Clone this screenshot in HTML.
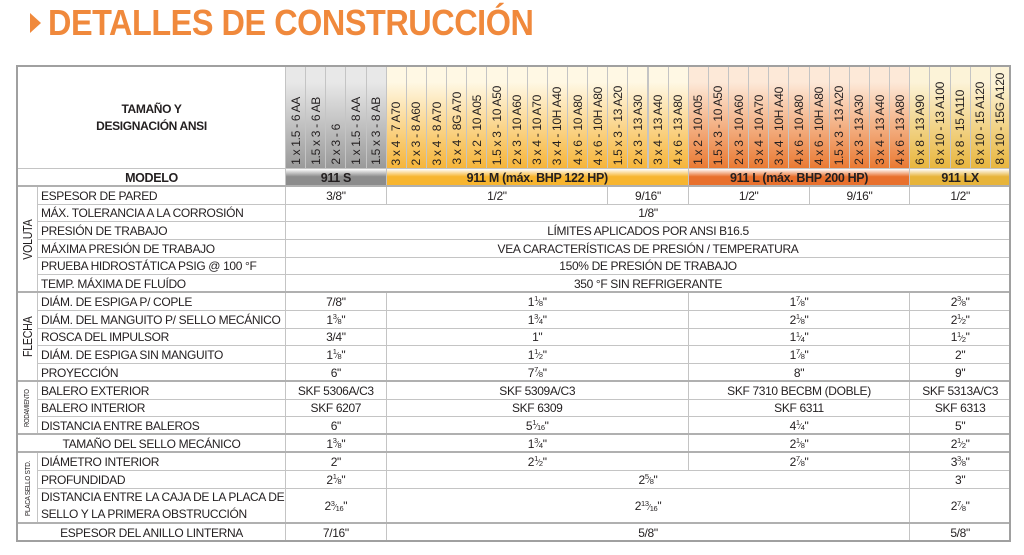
<!DOCTYPE html>
<html><head><meta charset="utf-8">
<style>
body{margin:0;width:1024px;height:555px;background:#fff;position:relative;overflow:hidden;font-family:"Liberation Sans",sans-serif;color:#231f20}
.a{position:absolute;box-sizing:border-box}
.c{border:1px solid #c4c4c4;display:flex;align-items:center;justify-content:center;font-size:12px;letter-spacing:-0.35px;white-space:nowrap}
.l{justify-content:flex-start;padding-left:3px}
.v{writing-mode:vertical-rl;transform:rotate(180deg);font-size:12px;letter-spacing:-0.3px;white-space:nowrap}
.fr{font-size:8px;line-height:8px}
.fr sup{font-size:7.5px;vertical-align:4px}
.fr sub{font-size:7.5px;vertical-align:-1px}
</style></head><body>
<div class="a" style="left:30px;top:13px;width:0;height:0;border-top:10px solid transparent;border-bottom:10px solid transparent;border-left:11px solid #f0893c"></div>
<div class="a" style="left:48px;top:2px;height:42px;white-space:nowrap;color:#f0893c;font-weight:bold;font-size:36px;transform:scaleX(0.9);transform-origin:left top;letter-spacing:-0.5px">DETALLES DE CONSTRUCCIÓN</div>
<div id="t"></div>
<div class="a" style="left:16px;top:65px;width:995px;height:477px;border:2px solid #a0a0a0;pointer-events:none"></div>
<script>
const sizes=["1 x 1.5 - 6 AA","1.5 x 3 - 6 AB","2 x 3 - 6","1 x 1.5 - 8 AA","1.5 x 3 - 8 AB",
"3 x 4 - 7 A70","2 x 3 - 8 A60","3 x 4 - 8 A70","3 x 4 - 8G A70","1 x 2 - 10 A05","1.5 x 3 - 10 A50","2 x 3 - 10 A60","3 x 4 - 10 A70","3 x 4 - 10H A40","4 x 6 - 10 A80","4 x 6 - 10H A80","1.5 x 3 - 13 A20","2 x 3 - 13 A30","3 x 4 - 13 A40","4 x 6 - 13 A80",
"1 x 2 - 10 A05","1.5 x 3 - 10 A50","2 x 3 - 10 A60","3 x 4 - 10 A70","3 x 4 - 10H A40","4 x 6 - 10 A80","4 x 6 - 10H A80","1.5 x 3 - 13 A20","2 x 3 - 13 A30","3 x 4 - 13 A40","4 x 6 - 13 A80",
"6 x 8 - 13 A90","8 x 10 - 13 A100","6 x 8 - 15 A110","8 x 10 - 15 A120","8 x 10 - 15G A120"];
const models=[[0,5,"911 S","#8c8c8c","#e8e8e8","#9a9a9a"],[5,20,"911 M (máx. BHP 122 HP)","#f7b52f","#fff8e4","#f6b53a"],[20,31,"911 L (máx. BHP 200 HP)","#e8702d","#fde9d8","#ea7a33"],[31,36,"911 LX","#e7b43a","#fcf3d8","#e8b63e"]];
const labels=["ESPESOR DE PARED","MÁX. TOLERANCIA A LA CORROSIÓN","PRESIÓN DE TRABAJO","MÁXIMA PRESIÓN DE TRABAJO","PRUEBA HIDROSTÁTICA PSIG @ 100 °F","TEMP. MÁXIMA DE FLUÍDO","DIÁM. DE ESPIGA P/ COPLE","DIÁM. DEL MANGUITO P/ SELLO MECÁNICO","ROSCA DEL IMPULSOR","DIÁM. DE ESPIGA SIN MANGUITO","PROYECCIÓN","BALERO EXTERIOR","BALERO INTERIOR","DISTANCIA ENTRE BALEROS","TAMAÑO DEL SELLO MECÁNICO","DIÁMETRO INTERIOR","PROFUNDIDAD","DISTANCIA ENTRE LA CAJA DE LA PLACA DE<br>SELLO Y LA PRIMERA OBSTRUCCIÓN","ESPESOR DEL ANILLO LINTERNA"];
const std=[[0,5],[5,20],[20,31],[31,36]];
const cells=[
 [[0,5,'3/8"'],[5,16,'1/2"'],[16,20,'9/16"'],[20,26,'1/2"'],[26,31,'9/16"'],[31,36,'1/2"']],
 [[0,36,'1/8"']],[[0,36,'LÍMITES APLICADOS POR ANSI B16.5']],[[0,36,'VEA CARACTERÍSTICAS DE PRESIÓN / TEMPERATURA']],
 [[0,36,'150% DE PRESIÓN DE TRABAJO']],[[0,36,'350 °F SIN REFRIGERANTE']],
 ['7/8"','1 1/8','1 7/8','2 3/8'],['1 3/8','1 3/4','2 1/8','2 1/2'],['3/4"','1"','1 1/4','1 1/2'],['1 1/8','1 1/2','1 7/8','2"'],['6"','7 7/8','8"','9"'],
 ['SKF 5306A/C3','SKF 5309A/C3','SKF 7310 BECBM (DOBLE)','SKF 5313A/C3'],['SKF 6207','SKF 6309','SKF 6311','SKF 6313'],['6"','5 1/16','4 1/4','5"'],
 ['1 3/8','1 3/4','2 1/8','2 1/2'],['2"','2 1/2','2 7/8','3 3/8'],
 [[0,5,'2 1/8'],[5,31,'2 5/8'],[31,36,'3"']],[[0,5,'2 3/16'],[5,31,'2 13/16'],[31,36,'2 7/8']],[[0,5,'7/16"'],[5,31,'5/8"'],[31,36,'5/8"']]];
const ys=[168,186,204,221,239,257,274,292,310,328,345,363,381,399,416,434,452,470,488,523,541];
const groups=[[0,6,"VOLUTA",12.5],[6,11,"FLECHA",12.5],[11,14,"RODAMIENTO",7],[15,18,"PLACA SELLO STD.",7.5]];
const fullRows=[14,18];
const X0=285,CW=(1010-285)/36;
const cx=i=>X0+i*CW;
const T=document.getElementById('t');
function box(x,y,w,h,cls,html,name){const d=document.createElement('div');d.className='a '+cls;
d.style.left=x+'px';d.style.top=y+'px';d.style.width=w+'px';d.style.height=h+'px';d.innerHTML=html;


T.appendChild(d);return d;}
function fmt(s){const m=s.match(/^(\d+) (\d+)\/(\d+)$/);
 if(m)return m[1]+'<span class="fr"><sup>'+m[2]+'</sup>⁄<sub>'+m[3]+'</sub></span>"';return s;}
box(17,66,269,103,'c','<b style="text-align:center;line-height:17px">TAMAÑO Y<br>DESIGNACIÓN ANSI</b>','size-header');
models.forEach(m=>{for(let i=m[0];i<m[1];i++){
 const d=box(cx(i),66,CW+1,103,'c','','size-column');
 d.style.background='linear-gradient('+m[4]+','+m[4]+' 15%,'+m[5]+')';d.style.alignItems='flex-end';
 const s=document.createElement('span');s.className='v';s.textContent=sizes[i];s.style.paddingTop='3px';
 
 
 d.appendChild(s);}
 const md=box(cx(m[0]),168,(m[1]-m[0])*CW+1,19,'c','<b style="font-size:12.5px">'+m[2]+'</b>','model-cell');
 md.style.background='linear-gradient(#fff3,'+m[3]+' 45%,'+m[3]+')';});
box(17,168,269,19,'c','<b style="font-size:12.5px">MODELO</b>','modelo-header');
labels.forEach((lb,r)=>{const y=ys[r+1],h=ys[r+2]-ys[r+1]+1;
 if(fullRows.includes(r))box(17,y,269,h,'c',lb,'row-label');
 else{const d=box(37,y,249,h,'c l',lb,'row-label');if(r==17)d.style.lineHeight='17px';}
 let cs=cells[r];
 if(typeof cs[0]==='string')cs=cs.map((t,i)=>[std[i][0],std[i][1],t]);
 cs.forEach(c=>box(cx(c[0]),y,(c[1]-c[0])*CW+1,h,'c',fmt(c[2]),'value-cell'));});
groups.forEach(g=>{const y=ys[g[0]+1],h=ys[g[1]+1]-y+1;
 box(17,y,21,h,'c','<span class="v" style="font-size:'+g[3]+'px;transform:rotate(180deg) scaleY(0.85)">'+g[2]+'</span>','group-label');});
[186,292,381,434,452,523].forEach(y=>{const d=box(17,y-1,993,2,'','','row-separator');d.style.background='#b0b0b0';});
</script>
</body></html>
